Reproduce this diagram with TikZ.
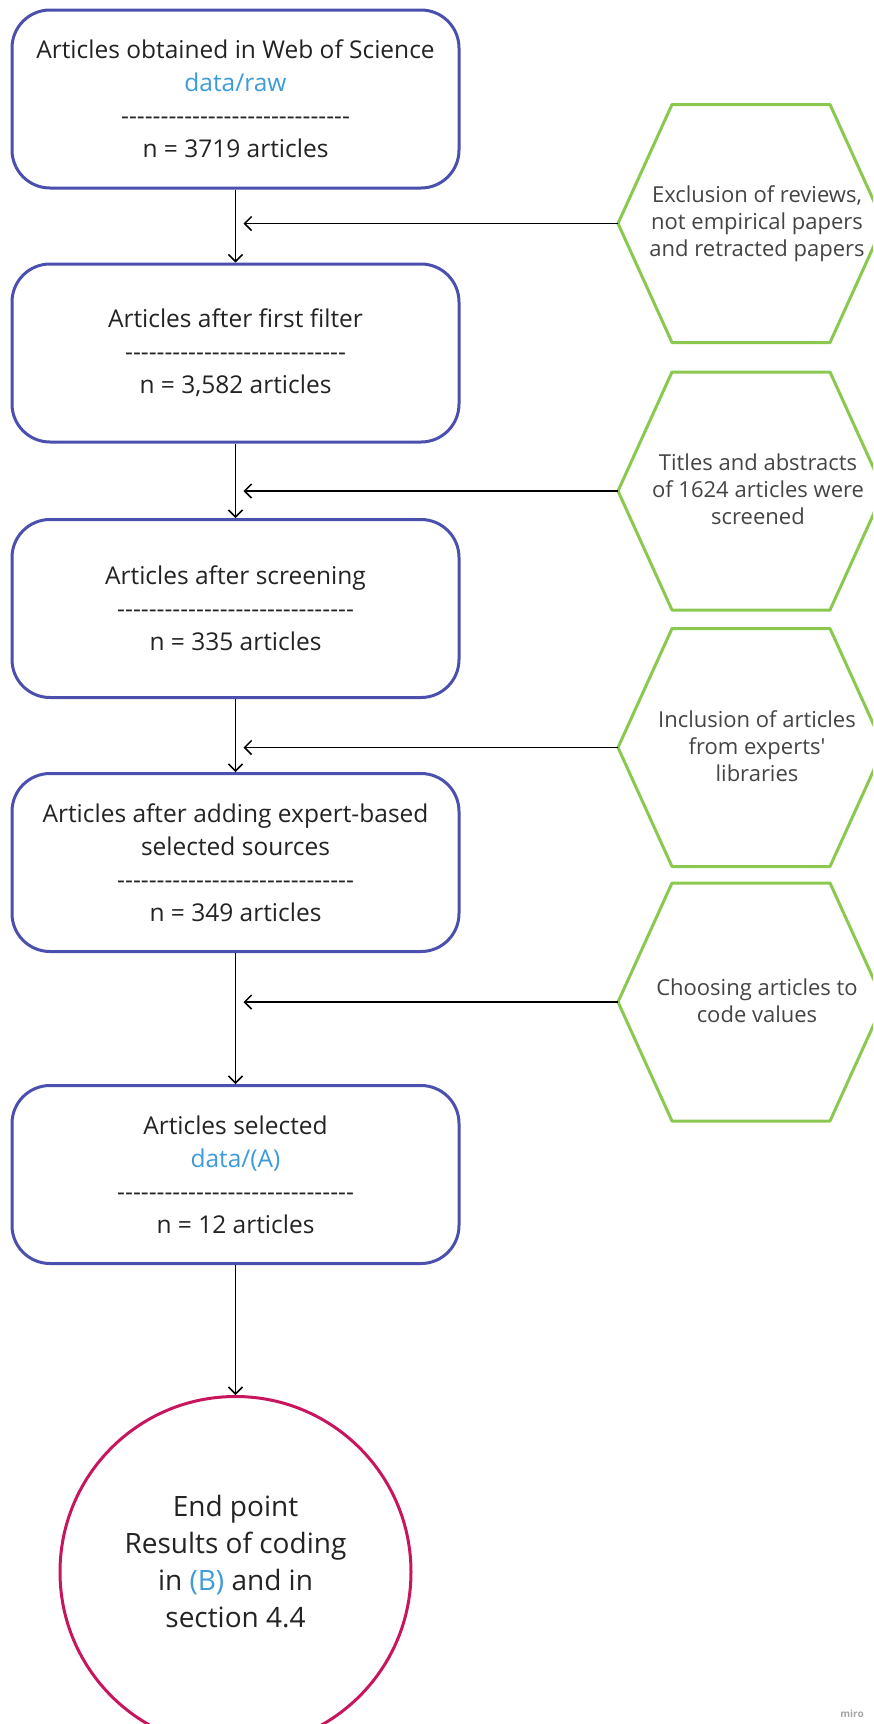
\documentclass[tikz,border=0pt]{standalone}
\usepackage{fontspec}
\setmainfont{Open Sans}
\newfontfamily\plainsans{Open Sans}
\usetikzlibrary{arrows.meta}
\definecolor{boxblue}{RGB}{75,79,174}
\definecolor{hexgreen}{RGB}{138,200,80}
\definecolor{endred}{RGB}{200,22,94}
\definecolor{linkblue}{RGB}{62,155,219}
\definecolor{ink}{RGB}{35,35,35}
\definecolor{hexink}{RGB}{68,68,68}
\newcommand{\dashrow}[1]{\foreach \k in {1,...,#1}{-\kern0pt}}

\begin{document}
\begin{tikzpicture}[
        x=1pt, y=-1pt,
        stage/.style={draw=boxblue, line width=3pt, rounded corners=38pt,
            minimum width=447pt, minimum height=178pt, inner sep=0pt,
            align=center, text=ink, font=\fontsize{24.5}{33}\selectfont},
        hexline/.style={draw=hexgreen, line width=3pt, line join=round},
        hextext/.style={align=center, text=hexink, font=\fontsize{22}{27}\selectfont},
        flow/.style={line width=1.5pt, -{Straight Barb[length=7pt,width=14pt]}}
    ]
    \clip (0,0) rectangle (873,1724);

    \node[stage] (b1) at (235.5,99) {Articles obtained in Web of Science\\ \textcolor{linkblue}{data/raw}\\ \dashrow{29}\\ n = 3719 articles};
    \node[stage] (b2) at (235.5,353) {Articles after first filter\\ \dashrow{28}\\ n = 3,582 articles};
    \node[stage] (b3) at (235.5,608.5) {Articles after screening\\ \dashrow{30}\\ n = 335 articles};
    \node[stage] (b4) at (235.5,862.5) {Articles after adding expert-based\\ selected sources\\ \dashrow{30}\\ n = 349 articles};
    \node[stage] (b5) at (235.5,1174.5) {Articles selected\\ \textcolor{linkblue}{data/(A)}\\ \dashrow{30}\\ n = 12 articles};

    \node[draw=endred, line width=3pt, circle, minimum size=351pt, inner sep=0pt] (end) at (235.5,1572) {};
    \node[align=center, text=ink, font=\fontsize{28}{37}\selectfont] (endtext) at (235.5,1562) {End point\\ Results of coding\\ in \textcolor{linkblue}{(B)} and in\\ section 4.4};

    \coordinate (x1) at (618,223.5);
    \coordinate (x2) at (618,491);
    \coordinate (x3) at (618,747.5);
    \coordinate (x4) at (618,1002);

    \draw[hexline] (x1) -- ++(54,-119) -- ++(158,0) -- ++(54,119) -- ++(-54,119) -- ++(-158,0) -- cycle;
    \draw[hexline] (x2) -- ++(54,-119) -- ++(158,0) -- ++(54,119) -- ++(-54,119) -- ++(-158,0) -- cycle;
    \draw[hexline] (x3) -- ++(54,-119) -- ++(158,0) -- ++(54,119) -- ++(-54,119) -- ++(-158,0) -- cycle;
    \draw[hexline] (x4) -- ++(54,-119) -- ++(158,0) -- ++(54,119) -- ++(-54,119) -- ++(-158,0) -- cycle;

    \node[hextext] (h1) at (757,224) {Exclusion of reviews,\\ not empirical papers\\ and retracted papers};
    \node[hextext] (h2) at (758,489) {Titles and abstracts\\ of 1624 articles were\\ screened};
    \node[hextext] (h3) at (757,746) {Inclusion of articles\\ from experts{\plainsans'}\\ libraries};
    \node[hextext] (h4) at (757,1001) {Choosing articles to\\ code values};

    \draw[flow] (b1) -- (b2);
    \draw[flow] (b2) -- (b3);
    \draw[flow] (b3) -- (b4);
    \draw[flow] (b4) -- (b5);
    \draw[flow] (b5) -- (end);

    \draw[flow] (x1) -- ([xshift=8pt]b1.south |- x1);
    \draw[flow] (x2) -- ([xshift=8pt]b2.south |- x2);
    \draw[flow] (x3) -- ([xshift=8pt]b3.south |- x3);
    \draw[flow] (x4) -- ([xshift=8pt]b4.south |- x4);

    \node[text=black!35, font=\fontsize{10}{12}\selectfont\bfseries] (wm) at (852,1714) {miro};
\end{tikzpicture}
\end{document}
